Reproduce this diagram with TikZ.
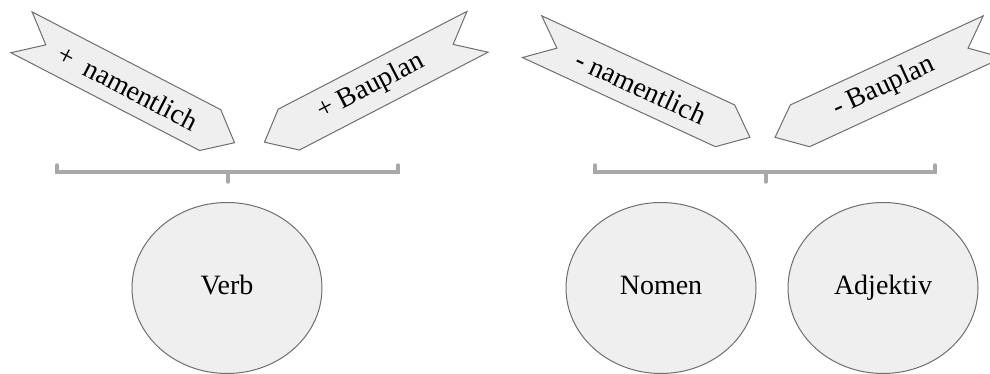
\documentclass[tikz,border=0pt]{standalone}
\usepackage{fontspec}
\setmainfont{Liberation Serif}
\usetikzlibrary{shapes.symbols, shapes.geometric, positioning}
\definecolor{tagfill}{RGB}{239, 239, 239}
\definecolor{tagline}{RGB}{110, 110, 110}
\definecolor{bracketgray}{RGB}{168, 168, 168}

\tikzset{
  feature/.style={shape=signal, draw=tagline, fill=tagfill, line width=1pt,
        signal pointer angle=80, minimum width=240pt, minimum height=46pt,
        inner sep=0pt, font=\fontsize{28}{32}\selectfont},
  wordclass/.style={ellipse, draw=tagline, fill=tagfill, line width=1pt,
        minimum width=190pt, minimum height=171pt, inner sep=0pt,
        text height=19pt, text depth=6pt,
        font=\fontsize{28}{32}\selectfont},
  bracket/.style={draw=bracketgray, line width=3.5pt, line cap=round}
}

\begin{document}
\begin{tikzpicture}[x=1pt, y=-1pt]
  \useasboundingbox (0,0) rectangle (990,374);

  \node[feature, signal from=west, signal to=east, rotate=-27.4]
    (plusname) at (128,87.5) {+\enspace namentlich};
  \node[feature, signal from=east, signal to=west, rotate=27.4]
    (plusplan) at (371,87) {+ Bauplan};
  \node[feature, signal from=west, signal to=east, rotate=-24.8]
    (minusname) at (641,87) {- namentlich};
  \node[feature, signal from=east, signal to=west, rotate=24.8]
    (minusplan) at (884,87) {- Bauplan};

  \coordinate (leftbr) at (228,172);
  \coordinate (rightbr) at (766,172);
  \draw[bracket] (57,165) |- (398,172) -- (398,165);
  \draw[bracket] (leftbr) -- ++(0,10);
  \draw[bracket] (595,165) |- (935,172) -- (935,165);
  \draw[bracket] (rightbr) -- ++(0,10);

  \node[wordclass] (verb) at (227,288) {Verb};
  \node[wordclass] (nomen) at (661,288) {Nomen};
  \node[wordclass] (adjektiv) at (883,288) {Adjektiv};
\end{tikzpicture}
\end{document}
